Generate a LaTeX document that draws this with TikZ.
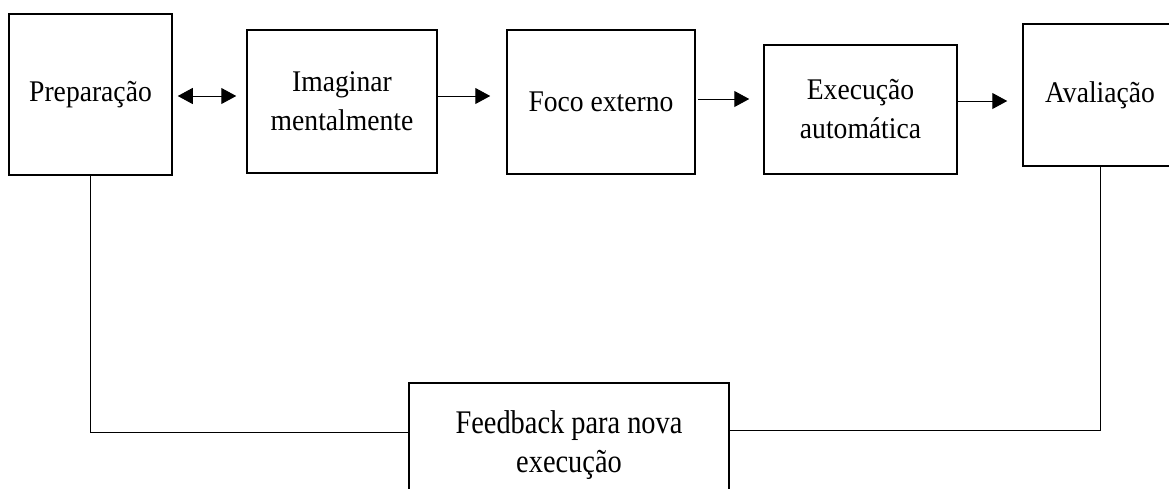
\documentclass[tikz,border=0pt]{standalone}
\usepackage{fontspec}
\setmainfont{Liberation Serif}[FakeStretch=0.92]
\newfontfamily\feedfont{Liberation Serif}[FakeStretch=0.86]
\usetikzlibrary{arrows.meta}
\begin{document}
\begin{tikzpicture}[x=1pt,y=-1pt,
  box/.style={draw=black,line width=1.5pt,inner sep=0pt,align=center,
    font=\fontsize{30}{39}\selectfont},
  conn/.style={draw=black,line width=1pt},
  arr/.style={conn,-{Triangle[length=15pt,width=16pt]}},
  dbl/.style={conn,{Triangle[length=15pt,width=16pt]}-{Triangle[length=15pt,width=16pt]}}]
\useasboundingbox (0,0) rectangle (1169,488);
\node[box,minimum width=163pt,minimum height=161pt] (prep) at (90.5,94.5) {Preparação};
\node[box,minimum width=190pt,minimum height=143pt] (imag) at (342,101.5) {Imaginar\\mentalmente};
\node[box,minimum width=188pt,minimum height=144pt] (foco) at (601,102) {Foco externo};
\node[box,minimum width=193pt,minimum height=129pt] (exec) at (860.5,109.5) {Execução\\automática};
\node[box,minimum width=154pt,minimum height=142pt] (aval) at (1100,95) {Avaliação};
\node[box,minimum width=320pt,minimum height=124pt,font=\feedfont\fontsize{33}{39}\selectfont] (feed) at (569,445) {Feedback para nova\\execução};
\coordinate (ya) at (0,96);
\coordinate (yb) at (0,96);
\coordinate (yc) at (0,99);
\coordinate (yd) at (0,101);
\coordinate (yl) at (0,432);
\coordinate (yr) at (0,430);
\draw[dbl,shorten <=5pt,shorten >=10pt] (prep.east |- ya) -- (imag.west |- ya);
\draw[arr,shorten >=16pt] (imag.east |- yb) -- (foco.west |- yb);
\draw[arr,shorten <=2pt,shorten >=14pt] (foco.east |- yc) -- (exec.west |- yc);
\draw[arr,shorten >=15pt] (exec.east |- yd) -- (aval.west |- yd);
\draw[conn] (prep.south) -- (prep.south |- yl) -- (feed.west |- yl);
\draw[conn] (aval.south) -- (aval.south |- yr) -- (feed.east |- yr);
\end{tikzpicture}
\end{document}
